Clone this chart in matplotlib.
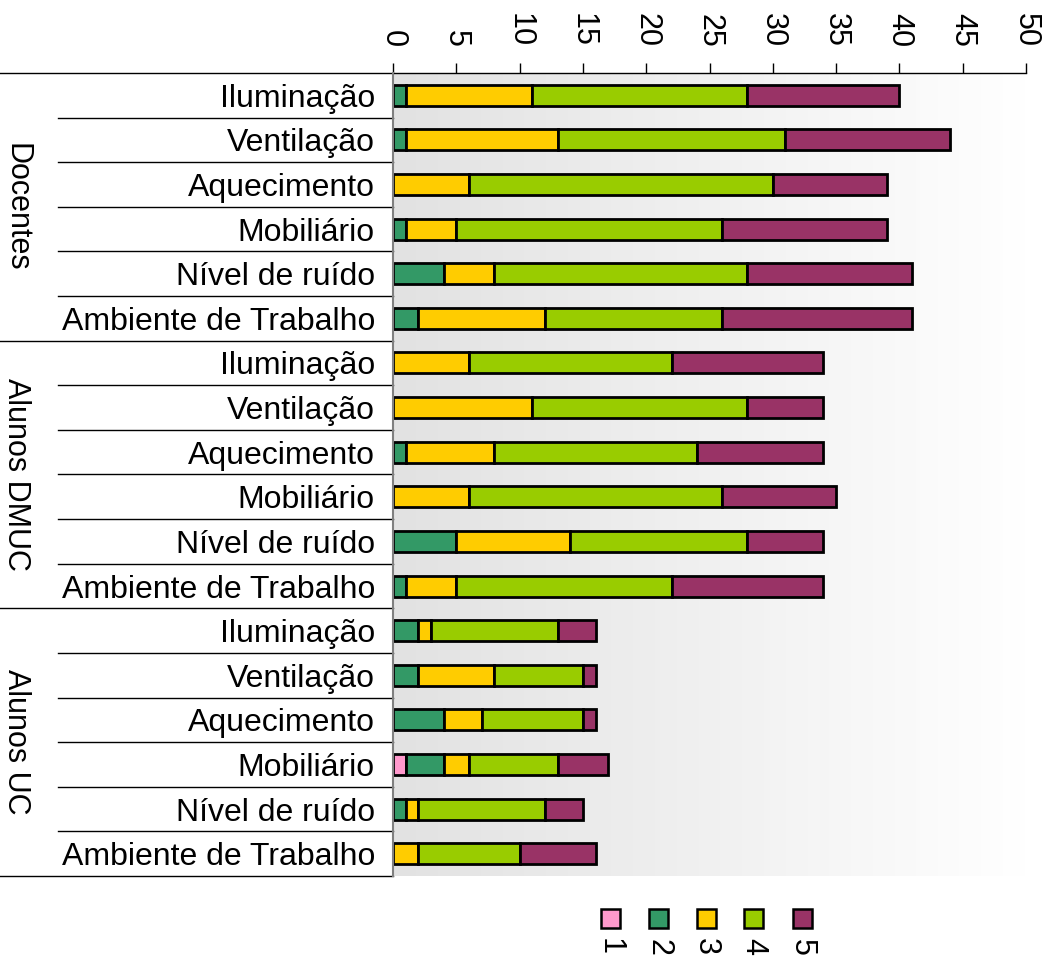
import numpy as np
import matplotlib.pyplot as plt
from matplotlib.patches import Rectangle
from matplotlib.colors import LinearSegmentedColormap

plt.rcParams['font.family'] = ['Liberation Sans', 'DejaVu Sans']

# data
groups = ['Docentes', 'Alunos DMUC', 'Alunos UC']
items = ['Iluminação', 'Ventilação', 'Aquecimento', 'Mobiliário',
         'Nível de ruído', 'Ambiente de Trabalho']
levels = ['1', '2', '3', '4', '5']
colors = ['#ff99cc', '#339966', '#ffcc00', '#99cc00', '#993366']

# counts per level (1..5), rows in order: Docentes, Alunos DMUC, Alunos UC
s1 = [0, 0, 0, 0, 0, 0,  0, 0, 0, 0, 0, 0,  0, 0, 0, 1, 0, 0]
s2 = [1, 1, 0, 1, 4, 2,  0, 0, 1, 0, 5, 1,  2, 2, 4, 3, 1, 0]
s3 = [10, 12, 6, 4, 4, 10,  6, 11, 7, 6, 9, 4,  1, 6, 3, 2, 1, 2]
s4 = [17, 18, 24, 21, 20, 14,  16, 17, 16, 20, 14, 17,  10, 7, 8, 7, 10, 8]
s5 = [12, 13, 9, 13, 13, 15,  12, 6, 10, 9, 6, 12,  3, 1, 1, 4, 3, 6]
series = [s1, s2, s3, s4, s5]

labels = items * len(groups)
y = np.arange(len(labels))

fig = plt.figure(figsize=(10.52, 9.58), dpi=100)
ax = fig.add_axes([393/1052, 1 - 876/958, 633/1052, 803/958])

# gradient background
grad = np.linspace(0, 1, 256).reshape(1, -1)
ax.imshow(grad, extent=[0, 50, 17.5, -0.5], aspect='auto', zorder=0,
          cmap=LinearSegmentedColormap.from_list('g', ['#e2e2e2', '#ffffff']))

left = np.zeros(len(labels))
for vals, c in zip(series, colors):
    vals = np.array(vals)
    ax.barh(y, vals, left=left, height=0.47, color=c, edgecolor='black', linewidth=2, zorder=2)
    left += vals

ax.set_xlim(0, 50)
ax.set_ylim(17.5, -0.5)
ax.xaxis.tick_top()
ax.set_xticks(range(0, 51, 5))
ax.set_xticklabels([str(v) for v in range(0, 51, 5)], rotation=-90, fontsize=22, va='bottom')
ax.tick_params(axis='x', direction='out', length=7.5, width=1, pad=11)
ax.set_yticks(y)
ax.set_yticklabels(labels, fontsize=23)
ax.tick_params(axis='y', length=0, pad=13)
ax.spines['right'].set_visible(False)
ax.spines['bottom'].set_visible(False)
ax.spines['left'].set_color('#808080')
ax.spines['left'].set_linewidth(1.5)
ax.spines['left'].set_zorder(3)
ax.spines['top'].set_linewidth(1)

# separators on the left side
trans = ax.get_yaxis_transform()
x_in = (58 - 393) / 633
x_out = -393 / 633
for b in np.arange(-0.5, 18, 1):
    x0 = x_out if (b + 0.5) % 6 == 0 else x_in
    ax.plot([x0, 0], [b, b], color='black', lw=1, transform=trans, clip_on=False, zorder=3)

for i, g in enumerate(groups):
    ax.text((16 - 393) / 633, i * 6 + 2.5, g, transform=trans, rotation=-90,
            ha='center', va='center', fontsize=22)

# legend
lx = [610, 658, 706, 753, 802]
for xx, c, lab in zip(lx, colors, levels):
    fig.patches.append(Rectangle(((xx - 9.5) / 1052, 1 - 928 / 958), 19 / 1052, 19 / 958,
                                 facecolor=c, edgecolor='black', lw=1.8,
                                 transform=fig.transFigure))
    fig.text(xx / 1052, 1 - 947 / 958, lab, rotation=-90, ha='center', va='center', fontsize=22)

fig.savefig('out.png', dpi=100)
